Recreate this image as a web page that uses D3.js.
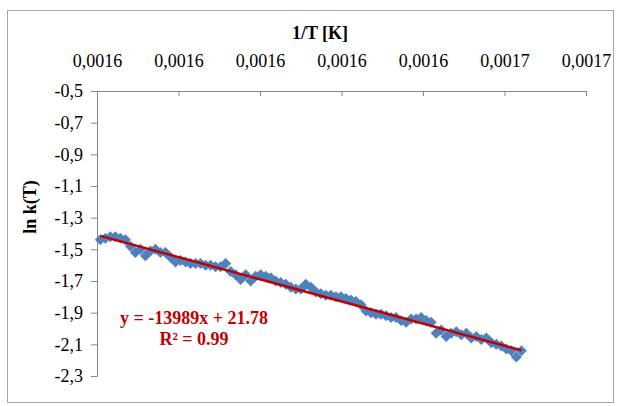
<!DOCTYPE html>
<html>
<head>
<meta charset="utf-8">
<script src="https://cdn.jsdelivr.net/npm/d3@7"></script>
<style>
  body { margin: 0; background: #fff; }
  svg text { font-family: "Times New Roman", "Liberation Serif", Tinos, "DejaVu Serif", serif; }
</style>
</head>
<body>
<svg id="chart" width="621" height="406"></svg>
<script>
// 1/T values (x) and ln k(T) values (y)
const invT = [
  0.00160540, 0.00160601, 0.00160662, 0.00160723, 0.00160784, 0.00160845, 0.00160906, 0.00160967, 0.00161028, 0.00161089,
  0.00161150, 0.00161211, 0.00161272, 0.00161333, 0.00161394, 0.00161455, 0.00161516, 0.00161577, 0.00161638, 0.00161699,
  0.00161760, 0.00161821, 0.00161882, 0.00161943, 0.00162004, 0.00162065, 0.00162126, 0.00162187, 0.00162248, 0.00162309,
  0.00162370, 0.00162431, 0.00162492, 0.00162553, 0.00162614, 0.00162675, 0.00162736, 0.00162797, 0.00162858, 0.00162919,
  0.00162980, 0.00163041, 0.00163102, 0.00163163, 0.00163224, 0.00163285, 0.00163346, 0.00163407, 0.00163468, 0.00163529,
  0.00163590, 0.00163651, 0.00163712, 0.00163773, 0.00163834, 0.00163895, 0.00163956, 0.00164017, 0.00164078, 0.00164139,
  0.00164200, 0.00164261, 0.00164322, 0.00164383, 0.00164444, 0.00164505, 0.00164566, 0.00164627, 0.00164688, 0.00164749,
  0.00164810, 0.00164871, 0.00164932, 0.00164993, 0.00165054, 0.00165115, 0.00165176, 0.00165237, 0.00165298, 0.00165359,
  0.00165420, 0.00165481, 0.00165542, 0.00165603, 0.00165664
];
const lnK = [
  -1.44, -1.43, -1.42, -1.42, -1.43, -1.44, -1.48, -1.52, -1.50, -1.54,
  -1.51, -1.50, -1.52, -1.52, -1.55, -1.58, -1.57, -1.58, -1.59, -1.59,
  -1.59, -1.60, -1.60, -1.61, -1.61, -1.59, -1.64, -1.66, -1.69, -1.66,
  -1.70, -1.67, -1.66, -1.67, -1.68, -1.70, -1.71, -1.72, -1.74, -1.75,
  -1.75, -1.72, -1.74, -1.77, -1.78, -1.79, -1.79, -1.80, -1.80, -1.81,
  -1.82, -1.83, -1.85, -1.89, -1.90, -1.91, -1.91, -1.92, -1.93, -1.93,
  -1.95, -1.96, -1.94, -1.94, -1.93, -1.95, -1.96, -2.03, -2.01, -2.05,
  -2.03, -2.02, -2.04, -2.03, -2.06, -2.05, -2.07, -2.06, -2.09, -2.10,
  -2.11, -2.13, -2.14, -2.18, -2.14
];
const xTickLabels = ['0,0016', '0,0016', '0,0016', '0,0016', '0,0016', '0,0017', '0,0017'];
const yTicks = [-0.5, -0.7, -0.9, -1.1, -1.3, -1.5, -1.7, -1.9, -2.1, -2.3];
const trendText = ['y = -13989x + 21.78', 'R² = 0.99'];

const FONT = '"Times New Roman", "Liberation Serif", Tinos, "DejaVu Serif", serif';
const svg = d3.select('#chart');
const margin = {top: 91, left: 97};
const innerWidth = 586 - margin.left;
const innerHeight = 376 - margin.top;

// chart area border
svg.append('rect').attr('x', 7.5).attr('y', 10.5).attr('width', 606).attr('height', 392)
  .attr('fill', '#fff').attr('stroke', '#a6a6a6').attr('stroke-width', 1);

const xDomain = [0.001605, 0.0016645];
const xScale = d3.scaleLinear().domain(xDomain).range([0, innerWidth]);
const yScale = d3.scaleLinear().domain([-2.3, -0.5]).range([innerHeight, 0]);
const xTicks = d3.range(7).map(i => xDomain[0] + i * (xDomain[1] - xDomain[0]) / 6);

const g = svg.append('g').attr('transform', `translate(${margin.left}, ${margin.top})`);

// x axis sits on top (y max), tick marks pointing into the plot
const xAxis = g.append('g').attr('font-family', FONT)
  .call(d3.axisTop(xScale).tickValues(xTicks).tickSize(-5).tickPadding(0).tickFormat((d, i) => xTickLabels[i]));
xAxis.select('.domain').attr('stroke', '#868686');
xAxis.selectAll('.tick line').attr('stroke', '#868686');
xAxis.selectAll('.tick text').attr('y', -24).attr('font-size', 18).attr('fill', '#000');

const yAxis = g.append('g').attr('font-family', FONT)
  .call(d3.axisLeft(yScale).tickValues(yTicks).tickSize(6).tickPadding(8).tickFormat(d => d3.format('.1f')(d).replace('.', ',').replace('−', '-')));
yAxis.select('.domain').attr('stroke', '#868686');
yAxis.selectAll('.tick line').attr('stroke', '#868686');
yAxis.selectAll('.tick text').attr('font-size', 18).attr('fill', '#000');

// axis titles
svg.append('text').attr('x', 320).attr('y', 39).attr('text-anchor', 'middle').attr('font-family', FONT)
  .attr('font-size', 18).attr('font-weight', 'bold').text('1/T [K]');
svg.append('text').attr('transform', 'translate(36, 207) rotate(-90)').attr('text-anchor', 'middle').attr('font-family', FONT)
  .attr('font-size', 18).attr('font-weight', 'bold').text('ln k(T)');

// data points (diamonds)
const data = invT.map((x, i) => ({x: x, y: lnK[i]}));
g.selectAll('path.pt').data(data).enter().append('path')
  .attr('class', 'pt')
  .attr('d', 'M0,-5.5L5.5,0L0,5.5L-5.5,0Z')
  .attr('transform', d => `translate(${xScale(d.x)}, ${yScale(d.y)})`)
  .attr('fill', '#4f81bd');

// linear trendline from least squares fit
const mx = d3.mean(invT), my = d3.mean(lnK);
const slope = d3.sum(data, d => (d.x - mx) * (d.y - my)) / d3.sum(data, d => (d.x - mx) ** 2);
const icpt = my - slope * mx;
const xr = d3.extent(invT);
g.append('line')
  .attr('x1', xScale(xr[0])).attr('y1', yScale(slope * xr[0] + icpt))
  .attr('x2', xScale(xr[1])).attr('y2', yScale(slope * xr[1] + icpt))
  .attr('stroke', '#c00000').attr('stroke-width', 2.5);

svg.selectAll('text.eq').data(trendText).enter().append('text')
  .attr('class', 'eq').attr('font-family', FONT)
  .attr('x', 194).attr('y', (d, i) => 324 + i * 21)
  .attr('text-anchor', 'middle').attr('font-size', 18).attr('font-weight', 'bold')
  .attr('fill', '#c00000').text(d => d);
</script>
</body>
</html>
